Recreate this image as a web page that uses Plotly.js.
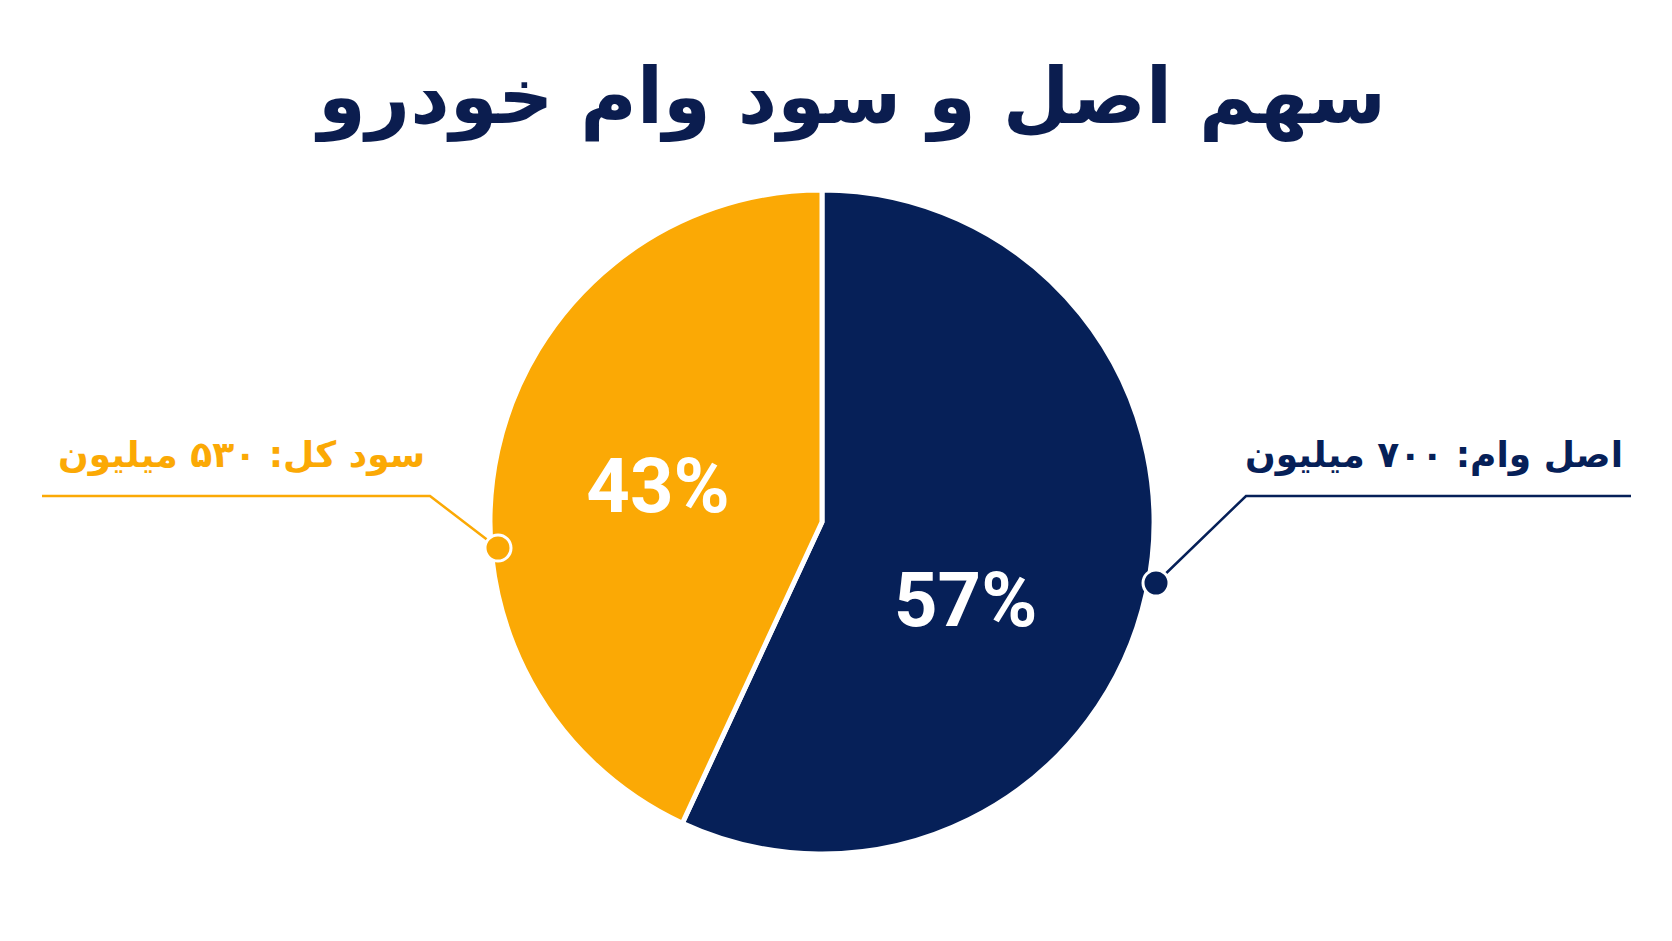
<!DOCTYPE html>
<html>
<head>
<meta charset="utf-8">
<script src="https://cdn.plot.ly/plotly-3.0.1.min.js"></script>
<style>html,body{margin:0;padding:0;background:#fff;}#chart{width:1672px;height:941px;}</style>
</head>
<body>
<div id="chart"></div>
<script>
// ---- data ----
const categories = ["اصل وام", "سود کل"];
const values = [700, 530];
const valueLabels = ["۷۰۰", "۵۳۰"];
const unit = "میلیون";
const titleText = "سهم اصل و سود وام خودرو";
const sliceColors = ["#062058", "#FBA905"];

// ---- layout helpers (pixel -> paper) ----
const W = 1672, H = 941;
const px = v => v / W;
const py = v => 1 - v / H;

const total = values.reduce((a, b) => a + b, 0);
const pctText = values.map(v => Math.round(v / total * 100) + "%");
const pctFont = { family: "Roboto, Arial, sans-serif", size: 76, color: "#ffffff", weight: 700 };

const pieTrace = {
  type: "pie",
  labels: categories,
  values: values,
  sort: false,
  direction: "clockwise",
  rotation: 0,
  marker: { colors: sliceColors, line: { color: "#ffffff", width: 5 } },
  textinfo: "percent",
  texttemplate: ["", "%{percent:.0%}"],
  textposition: ["none", "inside"],
  insidetextorientation: "horizontal",
  textfont: pctFont,
  hoverinfo: "none",
  showlegend: false,
  domain: { x: [px(490), px(1154)], y: [py(854), py(190)] }
};

// leader-line geometry (layout, in px)
const leaders = [
  { // principal (navy) — right side
    pts: [[1631, 496], [1246, 496], [1156, 583]],
    dot: [1156, 583],
    labelX: 1625
  },
  { // interest (orange) — left side
    pts: [[42, 496], [430, 496], [498, 548]],
    dot: [498, 548],
    labelX: 427
  }
];

const shapes = [];
const annotations = [];
leaders.forEach((L, i) => {
  const c = sliceColors[i];
  const d = "M " + L.pts.map(p => px(p[0]) + "," + py(p[1])).join(" L ");
  shapes.push({ type: "path", xref: "paper", yref: "paper", path: d, line: { color: c, width: 2.5 } });
  const r = 13;
  shapes.push({
    type: "circle", xref: "paper", yref: "paper",
    x0: px(L.dot[0] - r), x1: px(L.dot[0] + r), y0: py(L.dot[1] + r), y1: py(L.dot[1] - r),
    fillcolor: c, line: { color: "#ffffff", width: 3 }
  });
  annotations.push({
    xref: "paper", yref: "paper",
    x: px(L.labelX), y: py(478),
    xanchor: "right", yanchor: "bottom",
    showarrow: false,
    text: categories[i] + ": " + valueLabels[i] + " " + unit,
    font: { family: "DejaVu Sans, Noto Sans, sans-serif", size: 36, color: c, weight: 700 }
  });
});

// percentage label of the large (navy) slice
annotations.push({
  xref: "paper", yref: "paper",
  x: px(965), y: py(600),
  xanchor: "center", yanchor: "middle",
  showarrow: false,
  text: pctText[0],
  font: pctFont
});

const layout = {
  width: W, height: H,
  margin: { l: 0, r: 0, t: 0, b: 0 },
  paper_bgcolor: "#ffffff",
  plot_bgcolor: "#ffffff",
  title: {
    text: titleText,
    x: px(852), xref: "paper", xanchor: "center",
    y: py(96), yref: "paper", yanchor: "middle",
    font: { family: "DejaVu Sans, Noto Sans, sans-serif", size: 77, color: "#0B1D4F", weight: 700 }
  },
  shapes: shapes,
  annotations: annotations,
  showlegend: false
};

Plotly.newPlot("chart", [pieTrace], layout, { staticPlot: true, displayModeBar: false });
</script>
</body>
</html>
